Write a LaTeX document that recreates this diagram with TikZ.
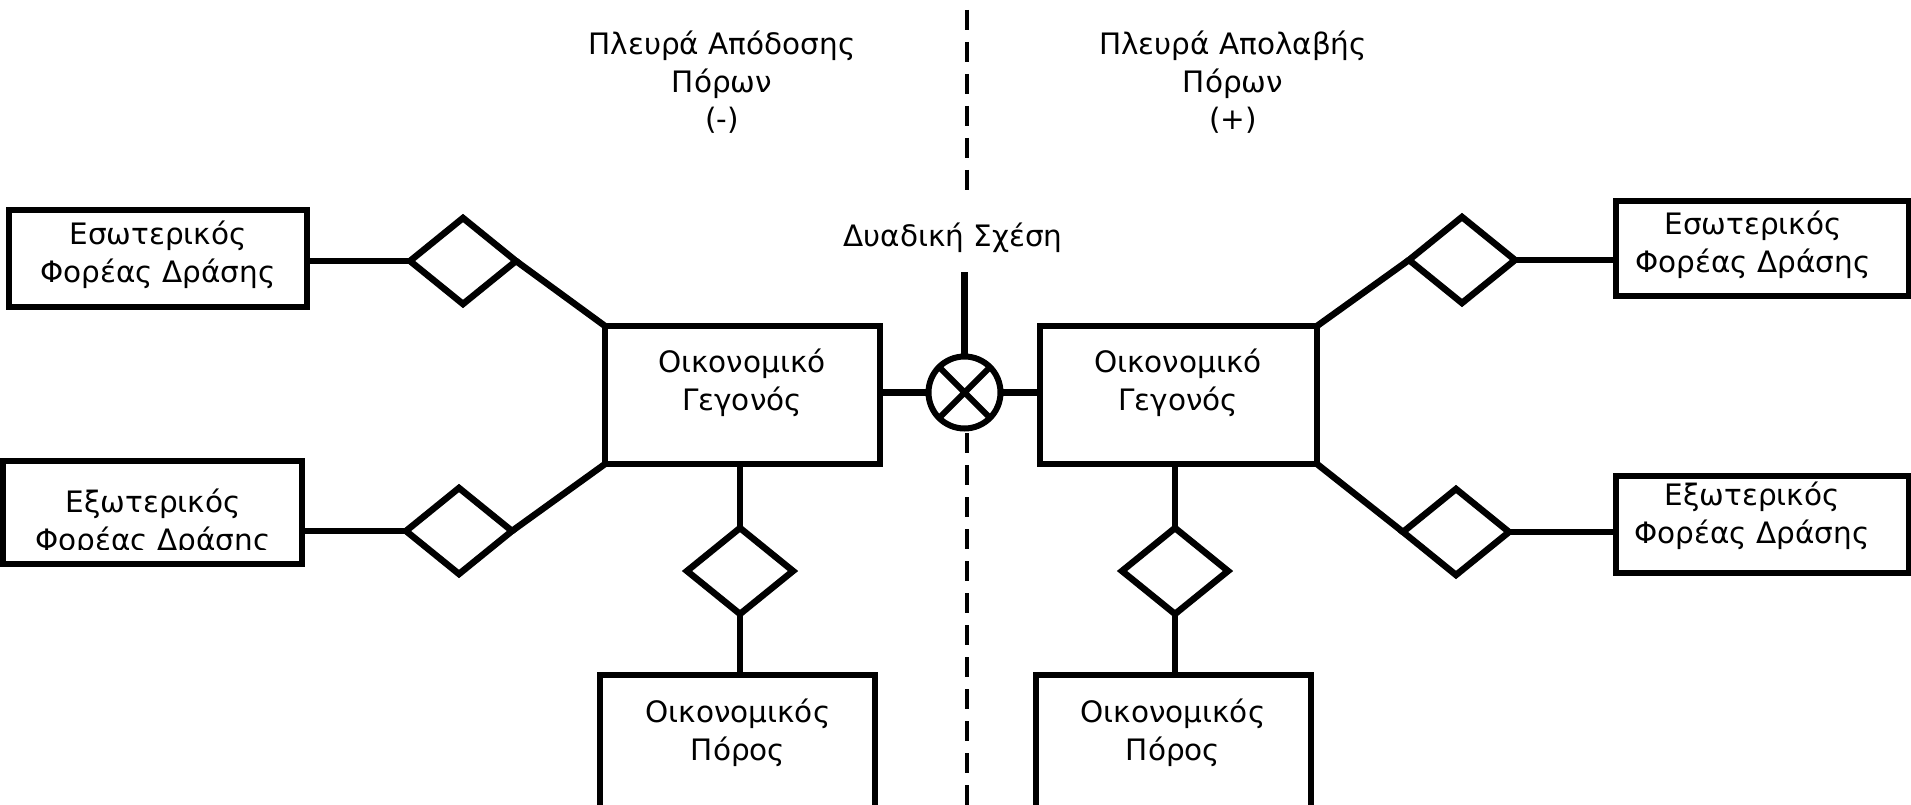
\documentclass[tikz,border=0pt]{standalone}
\usepackage{fontspec}
\setmainfont{DejaVu Sans}
\usetikzlibrary{shapes.geometric}
\begin{document}
\begin{tikzpicture}[x=1pt,y=-1pt,
  every node/.style={outer sep=0pt, inner sep=0pt},
  ebox/.style={draw, line width=6.5pt, rectangle},
  rel/.style={draw, line width=6.5pt, diamond, minimum width=106pt, minimum height=86pt},
  conn/.style={line width=6.5pt},
  sep/.style={line width=3.5pt, dash pattern=on 20pt off 12pt},
  lbl/.style={font=\fontsize{29.5}{37.5}\selectfont, align=center, anchor=base}]
\useasboundingbox (0,0) rectangle (1911,805);
\fill[white] (0,0) rectangle (1911,805);

% separator
\coordinate (s1) at (967,10);
\coordinate (s2) at (967,202);
\coordinate (s3) at (967,433);
\coordinate (s4) at (967,805);
\draw[sep] (s1) -- (s2);
\draw[sep] (s3) -- (s4);

% boxes
\node[ebox, minimum width=298pt, minimum height=97pt] (intL) at (158,258.5) {};
\node[ebox, minimum width=299pt, minimum height=103pt] (extL) at (152.5,512.5) {};
\node[ebox, minimum width=275pt, minimum height=138pt] (mainL) at (742.5,395) {};
\node[ebox, minimum width=277pt, minimum height=138pt] (mainR) at (1178.5,395) {};
\node[ebox, minimum width=293pt, minimum height=95pt] (intR) at (1762.5,248.5) {};
\node[ebox, minimum width=293pt, minimum height=97pt] (extR) at (1762.5,524.5) {};
\node[ebox, minimum width=275pt, minimum height=165pt] (resL) at (737.5,757.5) {};
\node[ebox, minimum width=275pt, minimum height=165pt] (resR) at (1173.5,757.5) {};

% diamonds
\node[rel] (dIntL) at (463,261) {};
\node[rel] (dExtL) at (459,531) {};
\node[rel] (dResL) at (740,571) {};
\node[rel] (dIntR) at (1462,260) {};
\node[rel] (dExtR) at (1456,532) {};
\node[rel] (dResR) at (1175,571) {};

% duality circle
\node[draw, circle, line width=6pt, minimum size=72pt] (c) at (964.5,392.5) {};
\draw[line width=6pt] (c.45) -- (c.225) (c.135) -- (c.315);
\coordinate (ctop) at (964.5,272);
\draw[conn] (ctop) -- (c.north);

% connectors
\draw[conn] (dIntL.west -| intL.east) -- (dIntL.west);
\draw[conn] (dIntL.east) -- (mainL.north west);
\draw[conn] (dExtL.west -| extL.east) -- (dExtL.west);
\draw[conn] (dExtL.east) -- (mainL.south west);
\draw[conn] (c.west -| mainL.east) -- (c.west);
\draw[conn] (c.east) -- (c.east -| mainR.west);
\draw[conn] (mainL.south -| dResL.north) -- (dResL.north);
\draw[conn] (dResL.south) -- (resL.north -| dResL.south);
\draw[conn] (mainR.south -| dResR.north) -- (dResR.north);
\draw[conn] (dResR.south) -- (resR.north -| dResR.south);
\draw[conn] (mainR.north east) -- (dIntR.west);
\draw[conn] (dIntR.east) -- (dIntR.east -| intR.west);
\draw[conn] (mainR.south east) -- (dExtR.west);
\draw[conn] (dExtR.east) -- (dExtR.east -| extR.west);

% texts (anchor base = baseline of the last line)
\node[lbl] (tTopL) at (722,130) {Πλευρά Απόδοσης\\Πόρων\\(-)};
\node[lbl] (tTopR) at (1233,130) {Πλευρά Απολαβής\\Πόρων\\(+)};
\node[lbl] (tDual) at (953,247) {Δυαδική Σχέση};
\node[lbl] (tIntL) at (158,282) {Εσωτερικός\\Φορέας Δράσης};
\begin{scope}
\clip (0,440) rectangle (320,549);
\node[lbl] (tExtL) at (153,550) {Εξωτερικός\\Φορέας Δράσης};
\end{scope}
\node[lbl] (tMainL) at (742,410) {Οικονομικό\\Γεγονός};
\node[lbl] (tMainR) at (1178,410) {Οικονομικό\\Γεγονός};
\node[lbl] (tIntR) at (1753,272) {Εσωτερικός\\Φορέας Δράσης};
\node[lbl] (tExtR) at (1752,543) {Εξωτερικός\\Φορέας Δράσης};
\node[lbl] (tResL) at (738,760) {Οικονομικός\\Πόρος};
\node[lbl] (tResR) at (1173,760) {Οικονομικός\\Πόρος};
\end{tikzpicture}
\end{document}
